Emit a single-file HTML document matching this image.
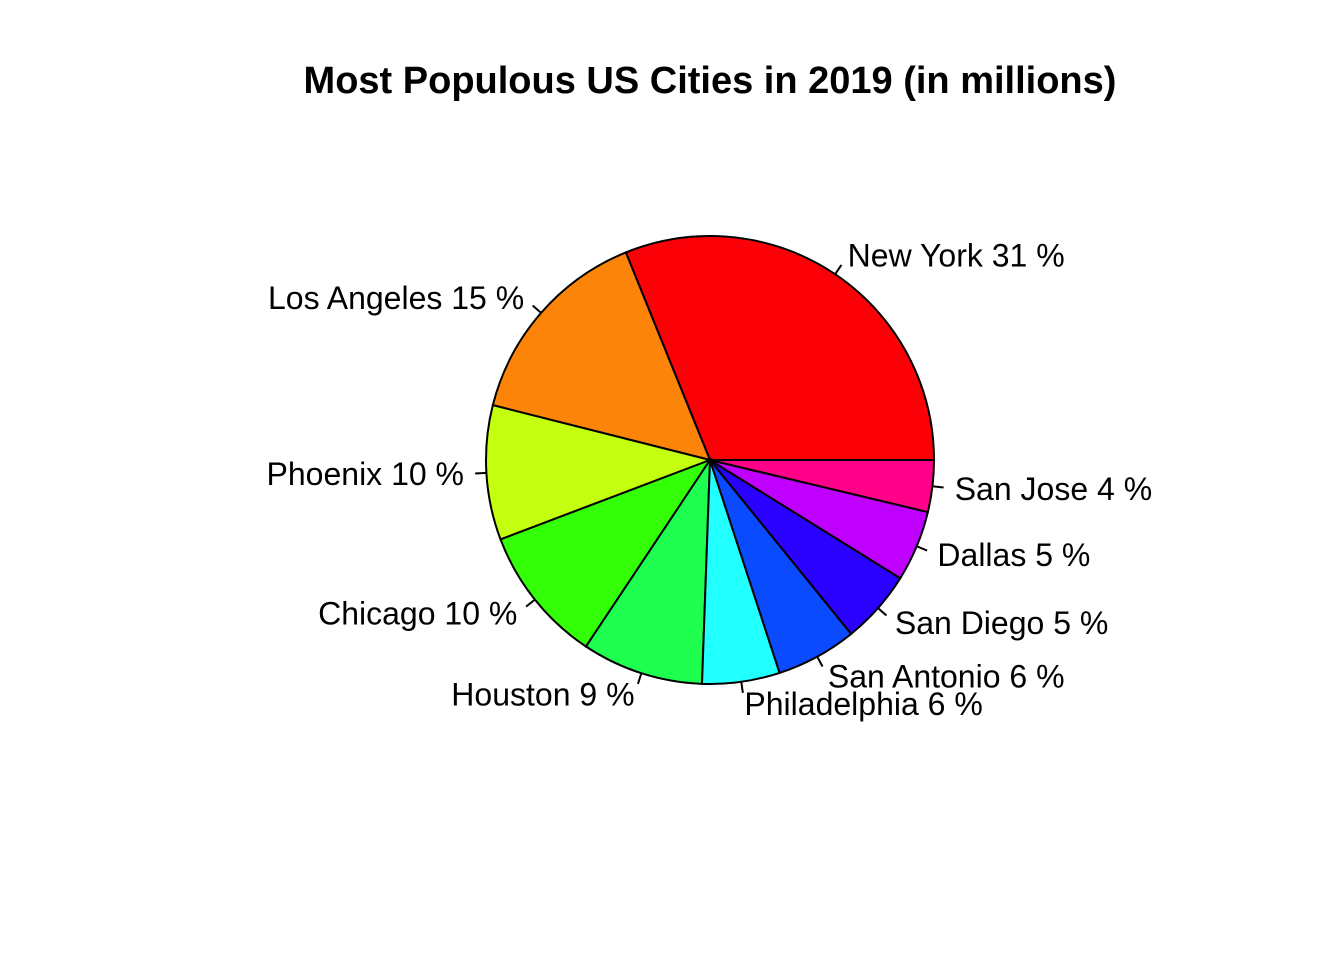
<!DOCTYPE html>
<html><head><meta charset="utf-8"><style>
html,body{margin:0;padding:0;background:#fff;}
svg{display:block;font-family:"Liberation Sans",Arial,sans-serif;}
</style></head><body>
<svg id="chart" width="1344" height="960" viewBox="0 0 1344 960">
<rect width="1344" height="960" fill="#fff"/>
<text x="710" y="93" text-anchor="middle" font-size="38" font-weight="bold">Most Populous US Cities in 2019 (in millions)</text>
<g id="slices"></g>
<g id="labels"></g>
</svg>
<script>
const cities = ["New York","Los Angeles","Phoenix","Chicago","Houston","Philadelphia","San Antonio","San Diego","Dallas","San Jose"];
const populations = [8.34, 4.0, 2.6, 2.65, 2.35, 1.5, 1.56, 1.42, 1.37, 1.0];
const colors = ["#FC0007","#FC8409","#C3FF0E","#33FF06","#1FFF50","#22FFFF","#0A4BFF","#2A00FF","#C000FF","#FF0088"];

const cx = 710, cy = 460, R = 224;
const NS = "http://www.w3.org/2000/svg";
const total = populations.reduce((a,b)=>a+b,0);
const slicesG = document.getElementById('slices');
const labelsG = document.getElementById('labels');
function pt(a, r){ return [cx + r*Math.cos(a), cy - r*Math.sin(a)]; }
let start = 0;
populations.forEach((v,i)=>{
  const sweep = v/total*2*Math.PI;
  const end = start + sweep;
  const p0 = pt(start,R), p1 = pt(end,R);
  const large = sweep > Math.PI ? 1 : 0;
  const path = document.createElementNS(NS,'path');
  path.setAttribute('d',`M${cx},${cy} L${p0[0]},${p0[1]} A${R},${R} 0 ${large} 0 ${p1[0]},${p1[1]} Z`);
  path.setAttribute('fill',colors[i]);
  path.setAttribute('stroke','#000');
  path.setAttribute('stroke-width','2');
  
  
  slicesG.appendChild(path);
  const mid = (start+end)/2;
  const t0 = pt(mid,R), t1 = pt(mid,R*1.05), lp = pt(mid,R*1.1);
  const ln = document.createElementNS(NS,'line');
  ln.setAttribute('x1',t0[0]); ln.setAttribute('y1',t0[1]);
  ln.setAttribute('x2',t1[0]); ln.setAttribute('y2',t1[1]);
  ln.setAttribute('stroke','#000'); ln.setAttribute('stroke-width','2');
  
  
  labelsG.appendChild(ln);
  const tx = document.createElementNS(NS,'text');
  tx.setAttribute('x',lp[0]); tx.setAttribute('y',lp[1]+11);
  tx.setAttribute('font-size','32');
  tx.setAttribute('text-anchor', Math.cos(mid) >= 0 ? 'start' : 'end');
  tx.textContent = cities[i] + ' ' + Math.round(v/total*100) + ' %';
  
  
  labelsG.appendChild(tx);
  start = end;
});
</script>
</body></html>
